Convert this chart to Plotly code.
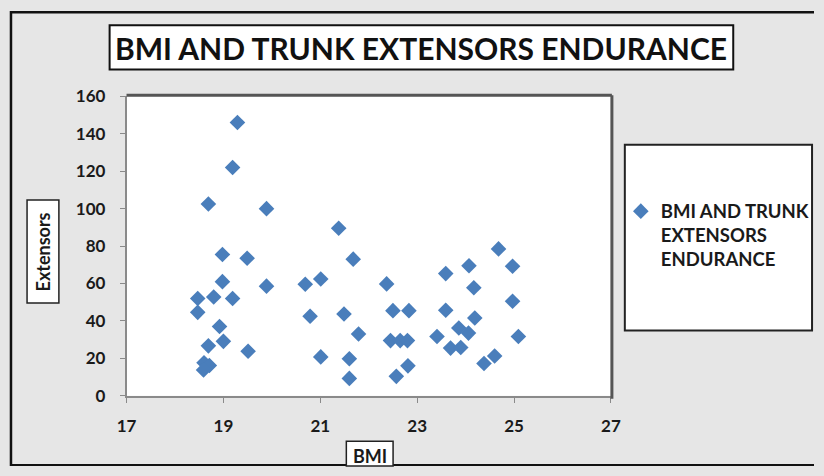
import plotly.graph_objects as go

W, H = 824, 476

bmi = [19.29, 19.19, 18.69, 19.89, 21.38, 21.68, 18.98, 19.49, 18.98, 19.89,
       20.69, 21.01, 18.47, 18.80, 19.19, 18.47, 20.79, 21.49, 18.92, 19.00,
       18.69, 19.51, 18.60, 18.71, 18.59, 21.01, 21.60, 21.60, 21.79, 22.37,
       22.50, 22.83, 22.45, 22.65, 22.80, 22.57, 22.81, 23.59, 23.59, 23.41,
       23.69, 23.90, 23.86, 24.06, 24.07, 24.17, 24.19, 24.68, 24.97, 24.97,
       25.09, 24.38, 24.60]
extensors = [146, 122, 102.5, 100, 89.5, 73, 75.5, 73.5, 61, 58.6,
             59.6, 62.4, 52, 52.8, 52, 44.6, 42.5, 43.7, 37, 29.1,
             26.7, 23.8, 17.7, 16.2, 13.8, 20.8, 19.8, 9.3, 33, 59.8,
             45.5, 45.5, 29.5, 29.5, 29.5, 10.4, 16, 65.3, 45.7, 31.7,
             25.5, 25.8, 36.2, 33.5, 69.5, 57.7, 41.6, 78.5, 69.2, 50.5,
             31.7, 17.3, 21.3]

title_text = "BMI AND TRUNK EXTENSORS ENDURANCE"
series_name = "BMI AND TRUNK<br>EXTENSORS<br>ENDURANCE"
x_title = "BMI"
y_title = "Extensors"
x_ticks = [17, 19, 21, 23, 25, 27]
y_ticks = [0, 20, 40, 60, 80, 100, 120, 140, 160]

FONT = "Lato"
TXT = "#1a1a1a"

# the page is photographed with a small inset; convert target-picture pixels
# into figure pixels, then into paper fractions
OX, SX, OY, SY = 7.85, 0.981, 7.7, 0.967


def fx(x):
    return (x - OX) / SX


def fy(y):
    return (y - OY) / SY


def px(x):
    return fx(x) / W


def py(y):
    return 1 - fy(y) / H


def rx(x):  # raw figure pixel -> paper
    return x / W


def ry(y):
    return 1 - y / H


# plot area in target-picture pixels
PL, PR, PT, PB = 125, 612, 94, 397

fig = go.Figure()
fig.add_trace(go.Scatter(
    x=bmi, y=extensors, mode="markers", name=series_name,
    marker=dict(symbol="diamond", size=12, color="#4a7ebb",
                line=dict(width=0)),
))

shapes = []
# outer chart border (left, top, bottom)
shapes.append(dict(type="line", xref="paper", yref="paper", x0=rx(1), x1=rx(1),
                   y0=ry(0), y1=ry(476), line=dict(color="#111", width=2.5),
                   layer="below"))
shapes.append(dict(type="line", xref="paper", yref="paper", x0=rx(0), x1=rx(824),
                   y0=ry(1.3), y1=ry(1.3), line=dict(color="#111", width=2.5),
                   layer="below"))
shapes.append(dict(type="line", xref="paper", yref="paper", x0=rx(0), x1=rx(824),
                   y0=ry(475), y1=ry(475), line=dict(color="#111", width=2),
                   layer="below"))
# title box
shapes.append(dict(type="rect", xref="paper", yref="paper", x0=px(108), x1=px(735),
                   y0=py(67), y1=py(22), fillcolor="white",
                   line=dict(color="#111", width=2), layer="below"))
# legend box
shapes.append(dict(type="rect", xref="paper", yref="paper", x0=px(626), x1=rx(822),
                   y0=py(331), y1=py(143), fillcolor="white",
                   line=dict(color="#222", width=2), layer="below"))
# y title box
shapes.append(dict(type="rect", xref="paper", yref="paper", x0=px(25), x1=px(57),
                   y0=py(303), y1=py(199), fillcolor="white",
                   line=dict(color="#222", width=1.5), layer="below"))
# x title box
shapes.append(dict(type="rect", xref="paper", yref="paper", x0=px(346), x1=px(393),
                   y0=ry(476), y1=py(443), fillcolor="white",
                   line=dict(color="#222", width=1.5), layer="below"))
# plot frame top & right (dark)
shapes.append(dict(type="line", xref="paper", yref="paper", x0=px(PL), x1=px(PR + 1),
                   y0=py(PT - 1), y1=py(PT - 1), line=dict(color="#555", width=3),
                   layer="above"))
shapes.append(dict(type="line", xref="paper", yref="paper", x0=px(PR + 1), x1=px(PR + 1),
                   y0=py(PT - 1), y1=py(PB + 3), line=dict(color="#555", width=3),
                   layer="above"))

annotations = [
    dict(text=f"<b>{title_text}</b>", x=px(421.5), y=py(45), xref="paper", yref="paper",
         showarrow=False, xanchor="center", yanchor="middle",
         font=dict(family=FONT, size=30, color="#111")),
    dict(text=f"<b>{y_title}</b>", x=px(41), y=py(251), xref="paper", yref="paper",
         showarrow=False, textangle=-90, xanchor="center", yanchor="middle",
         font=dict(family=FONT, size=18, color=TXT)),
    dict(text=f"<b>{x_title}</b>", x=px(369.5), y=py(458), xref="paper", yref="paper",
         showarrow=False, xanchor="center", yanchor="middle",
         font=dict(family=FONT, size=18, color=TXT)),
]

axis_common = dict(showgrid=False, zeroline=False, showline=True, linecolor="#8a8a8a",
                   linewidth=1.5, ticks="outside", ticklen=5, tickcolor="#8a8a8a",
                   tickfont=dict(family=FONT, size=17, color=TXT, weight="bold"))

fig.update_layout(
    width=W, height=H,
    margin=dict(l=0, r=0, t=0, b=0),
    paper_bgcolor="#e6e6e6",
    plot_bgcolor="white",
    showlegend=True,
    xaxis=dict(range=[17, 27], tickvals=x_ticks, domain=[px(PL), px(PR)],
               ticklabelstandoff=9, **axis_common),
    yaxis=dict(range=[0, 160], tickvals=y_ticks, domain=[py(PB), py(PT)],
               ticklabelstandoff=11, **axis_common),
    legend=dict(x=rx(626), y=ry(190), xanchor="left", yanchor="top",
                bgcolor="rgba(0,0,0,0)", borderwidth=0, valign="top",
                itemwidth=30,
                font=dict(family=FONT, size=18.5, color=TXT, weight="bold")),
    shapes=shapes,
    annotations=annotations,
)

fig.write_html("out.html")
